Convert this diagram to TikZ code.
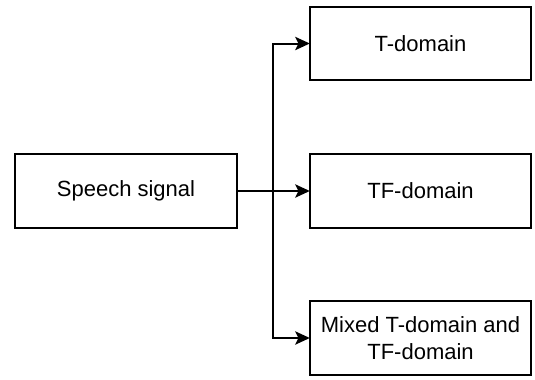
\documentclass[tikz,border=0pt]{standalone}
\usepackage{fontspec}
\setmainfont{Liberation Sans}
\usetikzlibrary{arrows.meta}
\begin{document}
\begin{tikzpicture}[x=0.75pt,y=-0.75pt,
  box/.style={draw, line width=1.5pt, minimum width=166pt, minimum height=55pt, inner sep=0pt, outer sep=0pt, align=center, font=\fontsize{16.5pt}{20pt}\selectfont},
  conn/.style={line width=1.5pt, -{Stealth[length=11pt,width=10pt,inset=2.5pt]}}]
\useasboundingbox (0,0) rectangle (535,379);
\node[box] (sp) at (126,191) {Speech signal};
\node[box] (t) at (420.5,43.5) {T-domain};
\node[box] (tf) at (420.5,191) {TF-domain};
\node[box] (mx) at (420.5,338) {Mixed T-domain and\\TF-domain};
\coordinate (j) at (273,191);
\draw[line width=1.5pt] (sp.east) -- (j);
\draw[conn] (j) -- (tf.west);
\draw[conn] (j) |- (t.west);
\draw[conn] (j) |- (mx.west);
\end{tikzpicture}
\end{document}
